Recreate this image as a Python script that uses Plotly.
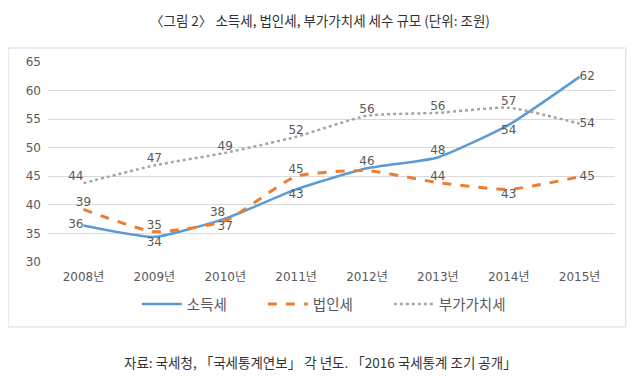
import plotly.graph_objects as go

years = ["2008년", "2009년", "2010년", "2011년", "2012년", "2013년", "2014년", "2015년"]
income_tax = [36.4, 34.4, 37.6, 42.7, 46.4, 48.3, 54.0, 62.4]
corporate_tax = [39.2, 35.3, 37.2, 45.0, 46.0, 43.9, 42.7, 44.9]
vat = [43.8, 46.9, 49.1, 51.9, 55.6, 56.1, 57.0, 54.2]

income_labels = ["36", "34", "38", "43", "46", "48", "54", "62"]
corporate_labels = ["39", "35", "37", "45", "", "44", "43", "45"]
vat_labels = ["44", "47", "49", "52", "56", "56", "57", "54"]

FONT = "Noto Sans CJK KR"
NUMFONT = "DejaVu Sans, Noto Sans CJK KR"
LABEL_COLOR = "#595959"

fig = go.Figure()
fig.add_trace(go.Scatter(
    x=years, y=income_tax, name="소득세", mode="lines+text",
    line=dict(color="#5B9BD5", width=2.5, shape="spline", smoothing=0.5),
    text=income_labels,
    textposition=["middle left", "bottom center", "top left", "bottom center",
                  "top center", "top center", "bottom center", "middle right"],
    textfont=dict(size=12, color=LABEL_COLOR, family=NUMFONT),
))
fig.add_trace(go.Scatter(
    x=years, y=corporate_tax, name="법인세", mode="lines+text",
    line=dict(color="#ED7D31", width=3, dash="dash", shape="spline", smoothing=0.5),
    text=corporate_labels,
    textposition=["top center", "top center", "bottom center", "top center",
                  "top center", "top center", "bottom center", "middle right"],
    textfont=dict(size=12, color=LABEL_COLOR, family=NUMFONT),
))
fig.add_trace(go.Scatter(
    x=years, y=vat, name="부가가치세", mode="lines+text",
    line=dict(color="#A5A5A5", width=2.5, dash="dot", shape="spline", smoothing=0.5),
    text=vat_labels,
    textposition=["top left", "top center", "top center", "top center",
                  "top center", "top center", "top center", "middle right"],
    textfont=dict(size=12, color=LABEL_COLOR, family=NUMFONT),
))

fig.update_layout(
    width=632, height=372,
    margin=dict(l=40, r=25, t=54, b=118),
    paper_bgcolor="white", plot_bgcolor="white",
    font=dict(family=FONT, color=LABEL_COLOR, size=11),
    showlegend=True,
    legend=dict(orientation="h", x=0.49, xanchor="center", y=-0.13, yanchor="top",
                font=dict(size=14.5, color=LABEL_COLOR, family=FONT),
                itemwidth=40, tracegroupgap=0, entrywidth=71, entrywidthmode="pixels"),
    xaxis=dict(type="category", range=[-0.5, 7.5], showgrid=False, zeroline=False,
               showline=False, ticks="", ticklabelstandoff=6,
               tickfont=dict(size=12, color=LABEL_COLOR, family=NUMFONT)),
    yaxis=dict(range=[30, 65], dtick=5, showgrid=True, gridcolor="#D9D9D9", gridwidth=1,
               zeroline=False, showline=False, ticks="", ticklabelstandoff=6,
               tickfont=dict(size=12, color=LABEL_COLOR, family=NUMFONT)),
    shapes=[dict(type="rect", xref="paper", yref="paper",
                 x0=-0.0705, x1=1.019, y0=-0.325, y1=1.07,
                 line=dict(color="#D9D9D9", width=1), fillcolor="rgba(0,0,0,0)", layer="below")],
    annotations=[
        dict(text="〈그림 2〉 소득세, 법인세, 부가가치세 세수 규모 (단위: 조원)",
             xref="paper", yref="paper", x=(320 - 48) / 567, y=1.27,
             xanchor="center", yanchor="top", showarrow=False,
             font=dict(size=13.5, color="#333333", family=FONT)),
        dict(text="자료: 국세청, 「국세통계연보」 각 년도. 「2016 국세통계 조기 공개」",
             xref="paper", yref="paper", x=(320 - 48) / 567, y=-0.5,
             xanchor="center", yanchor="middle", showarrow=False,
             font=dict(size=13.5, color="#333333", family=FONT)),
    ],
)

fig.write_html("out.html")
